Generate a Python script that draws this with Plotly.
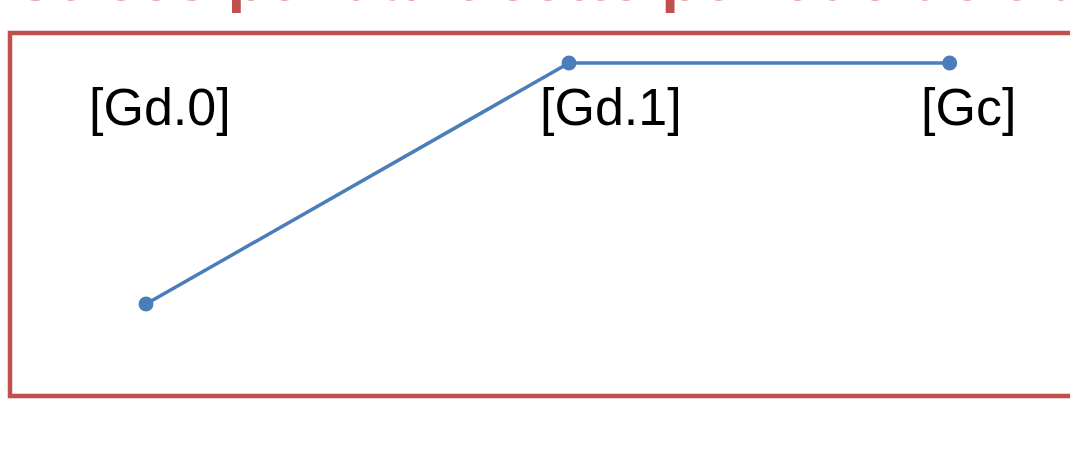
import plotly.graph_objects as go

# Phases, time axis positions and stress level
phases = ["[Gd.0]", "[Gd.1]", "[Gc]"]
time = [0, 10, 19]
stress = [0, 1, 1]
label_time = [0.33, 11.0, 19.45]

title_text = "Stress pendant cette période de travail"

RED = "#C0504D"
BLUE = "#4A7EBB"

W, H = 1070, 463

fig = go.Figure()

fig.add_trace(go.Scatter(
    x=time,
    y=stress,
    mode="lines+markers",
    line=dict(color=BLUE, width=3.5),
    marker=dict(color=BLUE, size=15),
    hoverinfo="skip",
    showlegend=False,
))

# phase labels above the curve
for name, lx in zip(phases, label_time):
    fig.add_annotation(
        x=lx, xref="x",
        y=1 - 107 / H, yref="paper",
        text=name, showarrow=False,
        xanchor="center", yanchor="middle",
        font=dict(family="Arial, Liberation Sans", size=52, color="black"),
    )

# slide title, cut off by the top edge
fig.add_annotation(
    x=12 / W, xref="paper",
    y=1, yref="paper",
    text=title_text, showarrow=False,
    xanchor="left", yanchor="bottom",
    yshift=-16,
    font=dict(family="Arial, Liberation Sans", size=64, color=RED, weight="bold"),
)

# red frame around the chart
fig.add_shape(
    type="rect", xref="paper", yref="paper",
    x0=10 / W, x1=1.02, y0=1 - 396 / H, y1=1 - 33 / H,
    line=dict(color=RED, width=4.5),
    fillcolor="rgba(0,0,0,0)",
    layer="above",
)

fig.update_layout(
    width=W, height=H,
    margin=dict(l=0, r=0, t=0, b=0),
    paper_bgcolor="white",
    plot_bgcolor="white",
    xaxis=dict(visible=False, range=[-146 / 42.3, (W - 146) / 42.3]),
    yaxis=dict(visible=False, range=[-(H - 304) / 241, 1 + 63 / 241]),
)

fig.write_html(
    "out.html",
    config={"displayModeBar": False},
    post_script="document.body.style.margin='0';document.body.style.overflow='hidden';",
)
